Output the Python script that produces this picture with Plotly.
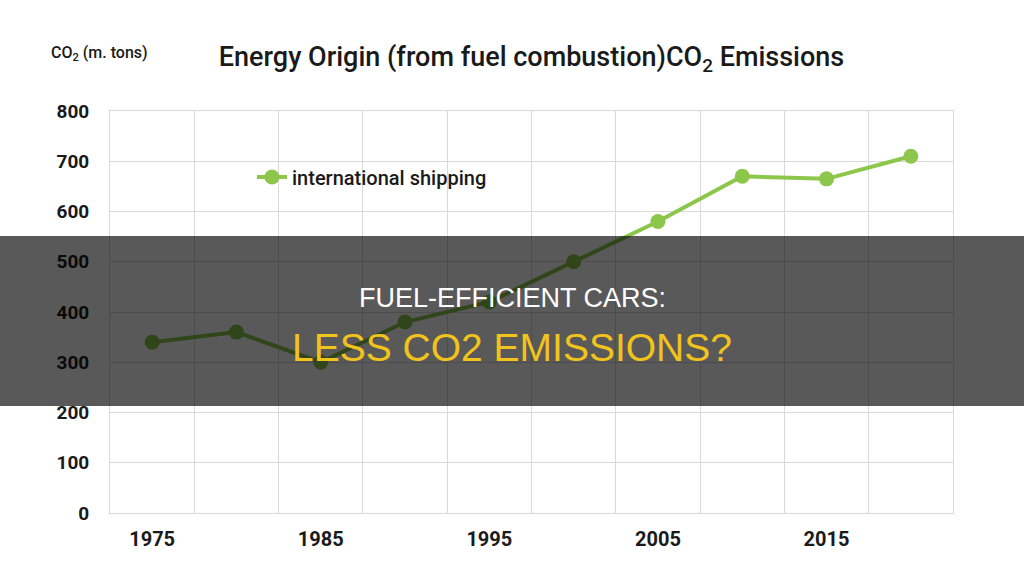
import plotly.graph_objects as go

years = [1975, 1980, 1985, 1990, 1995, 2000, 2005, 2010, 2015, 2020]
shipping = [340, 360, 300, 380, 420, 500, 580, 670, 665, 710]
x_tick_labels = ["1975", "1985", "1995", "2005", "2015"]
x_tick_vals = [1975, 1985, 1995, 2005, 2015]
y_tick_vals = [0, 100, 200, 300, 400, 500, 600, 700, 800]
series_name = "international shipping"

GREEN = "#8cc64b"
GRID = "#d9d9d9"
TXT = "#1a1a1a"

fig = go.Figure()
fig.add_trace(go.Scatter(
    x=years, y=shipping, name=series_name, mode="lines+markers",
    line=dict(color=GREEN, width=4),
    marker=dict(color=GREEN, size=15),
))

fig.update_layout(
    width=1024, height=575, autosize=False,
    margin=dict(l=110, r=71, t=111, b=62),
    paper_bgcolor="white", plot_bgcolor="white",
    font=dict(family="Roboto", color=TXT),
    title=dict(
        text="Energy Origin (from fuel combustion)CO<sub>2</sub> Emissions",
        x=0.5, xref="paper", xanchor="center",
        y=1 - 57 / 575, yref="container", yanchor="middle",
        font=dict(family="Roboto", size=27, color=TXT, weight=500),
    ),
    showlegend=True,
    legend=dict(
        x=(252 - 110) / 843, y=(513 - 177) / 402, xanchor="left", yanchor="middle",
        bgcolor="rgba(0,0,0,0)", font=dict(family="Roboto", size=20, color=TXT, weight=500),
    ),
    xaxis=dict(
        range=[1972.5, 2022.5], tickvals=x_tick_vals, ticktext=x_tick_labels,
        showgrid=False, zeroline=False,
        showline=True, linecolor=GRID, linewidth=1, mirror=True,
        ticks="", ticklabelstandoff=8,
        tickfont=dict(family="Roboto", size=20, color=TXT, weight="bold"),
        minor=dict(tick0=1972.5, dtick=5, showgrid=True, gridcolor=GRID, gridwidth=1),
    ),
    yaxis=dict(
        range=[0, 800], tickvals=y_tick_vals,
        showgrid=True, gridcolor=GRID, gridwidth=1, zeroline=False,
        showline=True, linecolor=GRID, linewidth=1, mirror=True,
        ticks="", ticklabelstandoff=16,
        tickfont=dict(family="Roboto", size=19, color=TXT, weight="bold"),
    ),
)

# y-axis unit label
fig.add_annotation(
    text="CO<sub>2</sub> (m. tons)", xref="paper", yref="paper",
    x=(49 - 110) / 843, y=(513 - 53) / 402, xanchor="left", yanchor="middle",
    showarrow=False, font=dict(family="Roboto", size=16, color=TXT, weight=500),
)

# dark overlay band
fig.add_shape(
    type="rect", xref="paper", yref="paper",
    x0=-110 / 843, x1=(1024 - 110) / 843,
    y0=(513 - 406) / 402, y1=(513 - 236) / 402,
    fillcolor="rgba(0,0,0,0.65)", line=dict(width=0), layer="above",
)

fig.add_annotation(
    text="FUEL-EFFICIENT CARS:", xref="paper", yref="paper",
    x=(512 - 110) / 843, y=(513 - 298) / 402, xanchor="center", yanchor="middle",
    showarrow=False, font=dict(family="Liberation Sans", size=27, color="white"),
)
fig.add_annotation(
    text="LESS CO2 EMISSIONS?", xref="paper", yref="paper",
    x=(512 - 110) / 843, y=(513 - 347) / 402, xanchor="center", yanchor="middle",
    showarrow=False, font=dict(family="Liberation Sans", size=39, color="#f2c31b"),
)

fig.write_html("out.html")
